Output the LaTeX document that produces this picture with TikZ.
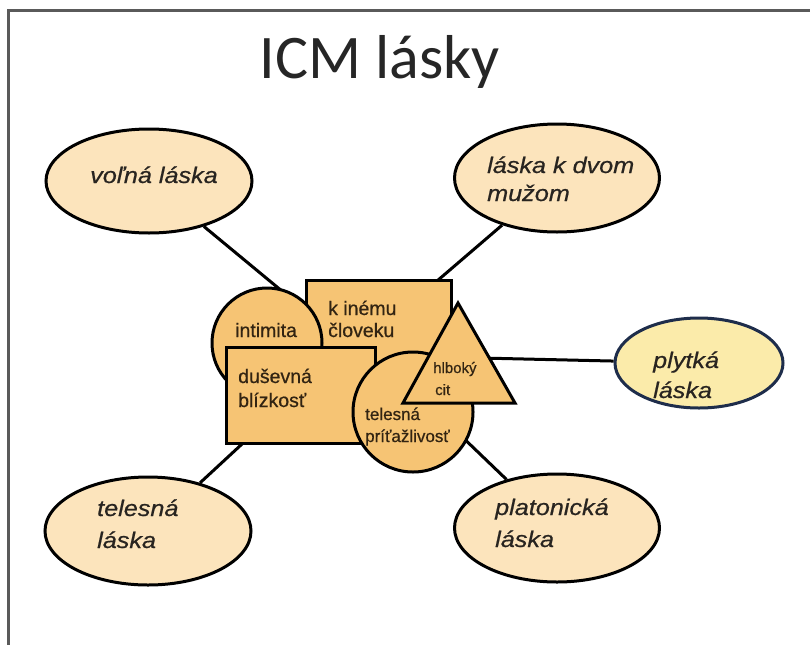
\documentclass[tikz,border=0pt]{standalone}
\usepackage{fontspec}
\setmainfont{Liberation Sans}
\newfontfamily\titlefont{Carlito}
\newfontfamily\ellfont[FakeStretch=1.12,FakeBold=0.6]{Liberation Sans}
\newfontfamily\ctrfont[FakeBold=0.6]{Liberation Sans}
\definecolor{shapefill}{RGB}{246,196,116}
\definecolor{ellfill}{RGB}{252,228,188}
\definecolor{plyfill}{RGB}{251,235,170}
\definecolor{plyline}{RGB}{30,45,75}
\definecolor{inktxt}{RGB}{40,36,32}
\definecolor{browntxt}{RGB}{50,36,18}
\definecolor{framegray}{RGB}{90,90,90}
\usetikzlibrary{shapes.geometric}
\begin{document}
\begin{tikzpicture}[x=1pt,y=-1pt,
  ell/.style={ellipse,draw=black,fill=ellfill,line width=3pt,inner sep=0pt},
  shp/.style={draw=black,fill=shapefill,line width=3pt,inner sep=0pt},
  conn/.style={draw=black,line width=3pt},
  etxt/.style={anchor=base west,inner sep=0pt,text=inktxt,font=\ellfont\itshape\fontsize{22.5}{27}\selectfont},
  ctxt/.style={anchor=base west,inner sep=0pt,text=browntxt,font=\ctrfont\fontsize{19.5}{23}\selectfont},
]
\useasboundingbox (0,0) rectangle (810,645);
\fill[white] (0,0) rectangle (810,645);
\fill[framegray] (7,9) rectangle (810,12);
\fill[framegray] (7,9) rectangle (10,645);

\node[inner sep=0pt,anchor=base,font=\titlefont\fontsize{62}{70}\selectfont,text=black!85] (title) at (380,78) {ICM lásky};

% connector ends (hidden behind the central shapes)
\coordinate (cv) at (300,306);
\coordinate (cd) at (430,287);
\coordinate (cp) at (480,358);
\coordinate (ct) at (255,432);
\coordinate (cl) at (455,430);

% ellipses
\node[ell,minimum width=206pt,minimum height=104pt] (volna) at (149,181) {};
\node[ell,minimum width=205pt,minimum height=108pt] (dvom) at (557,178) {};
\node[ell,draw=plyline,fill=plyfill,minimum width=168pt,minimum height=90pt] (plytka) at (699,363) {};
\node[ell,minimum width=206pt,minimum height=108pt] (telesna) at (148,531) {};
\node[ell,minimum width=205pt,minimum height=108pt] (platon) at (557,528) {};

% connectors
\path[conn] (volna) -- (cv);
\path[conn] (dvom) -- (cd);
\path[conn] (plytka) -- (cp);
\path[conn] (telesna) -- (ct);
\path[conn] (platon) -- (cl);

% central shapes
\node[shp,rectangle,minimum width=145pt,minimum height=85pt] (kin) at (378.5,322.5) {};
\node[shp,circle,minimum size=110pt] (intim) at (267,343) {};
\node[shp,rectangle,minimum width=149pt,minimum height=96pt] (dus) at (300.5,395) {};
\node[shp,circle,minimum size=120pt] (tel) at (413,412) {};
\coordinate (ta) at (458,303);
\coordinate (tb) at (403,403);
\coordinate (tc) at (515,403);
\filldraw[shp,line join=miter] (ta) -- (tb) -- (tc) -- cycle;

% texts
\node[etxt] (t1) at (90,183) {voľná láska};
\node[etxt] (t2) at (487,173) {láska k dvom};
\node[etxt] (t3) at (487,201) {mužom};
\node[etxt] (t4) at (653,368) {plytká};
\node[etxt] (t5) at (653,398) {láska};
\node[etxt] (t6) at (97,516) {telesná};
\node[etxt] (t7) at (97,548) {láska};
\node[etxt] (t8) at (495,515) {platonická};
\node[etxt] (t9) at (495,547) {láska};

\node[ctxt] (c1) at (328,315) {k inému};
\node[ctxt] (c2) at (328,337) {človeku};
\node[ctxt] (c3) at (235,337) {intimita};
\node[ctxt] (c4) at (238,383) {duševná};
\node[ctxt] (c5) at (238,407) {blízkosť};
\node[ctxt,font=\ctrfont\fontsize{15}{18}\selectfont] (c6) at (433,373) {hlboký};
\node[ctxt,font=\ctrfont\fontsize{15}{18}\selectfont] (c7) at (435,395) {cit};
\node[ctxt,font=\ctrfont\fontsize{17}{20}\selectfont] (c8) at (365,420) {telesná};
\node[ctxt,font=\ctrfont\fontsize{17}{20}\selectfont] (c9) at (365,442) {príťažlivosť};
\end{tikzpicture}
\end{document}
